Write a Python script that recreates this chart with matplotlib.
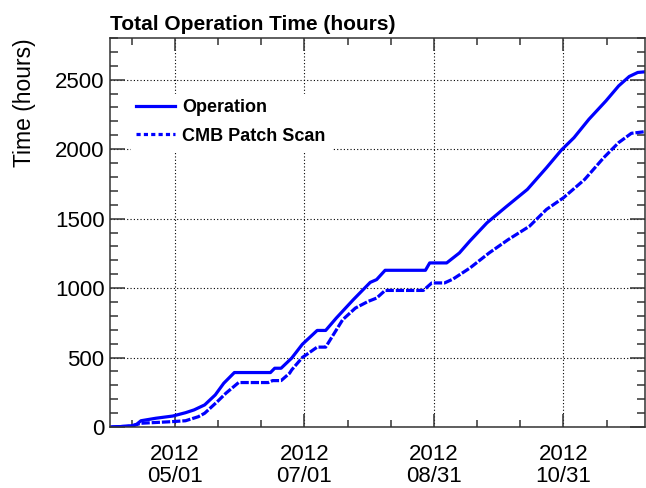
import matplotlib
matplotlib.use("Agg")
import matplotlib.pyplot as plt
import matplotlib.dates as mdates
from matplotlib.lines import Line2D
from datetime import datetime, timedelta

plt.rcParams["font.family"] = ["Liberation Sans", "DejaVu Sans"]

# cumulative hours
op_dates = ["2012-04-01", "2012-04-08", "2012-04-11", "2012-04-13", "2012-04-15",
            "2012-04-22", "2012-04-30", "2012-05-06", "2012-05-10", "2012-05-15",
            "2012-05-20", "2012-05-24", "2012-05-29", "2012-06-15", "2012-06-17",
            "2012-06-20", "2012-06-25", "2012-06-30", "2012-07-07", "2012-07-11",
            "2012-07-16", "2012-07-24", "2012-08-01", "2012-08-04", "2012-08-08",
            "2012-08-27", "2012-08-29", "2012-09-06", "2012-09-12", "2012-09-17",
            "2012-09-25", "2012-10-04", "2012-10-14", "2012-10-23", "2012-10-30",
            "2012-11-05", "2012-11-12", "2012-11-20", "2012-11-26", "2012-12-01",
            "2012-12-05", "2012-12-08"]
op_hours = [0, 5, 10, 20, 45,
            63, 79, 103, 123, 159,
            231, 315, 392, 392, 423,
            423, 496, 595, 695, 695,
            784, 916, 1041, 1061, 1128,
            1128, 1181, 1181, 1253, 1340,
            1470, 1585, 1710, 1866, 1993,
            2083, 2215, 2347, 2455, 2523,
            2552, 2556]

cmb_dates = ["2012-04-01", "2012-04-11", "2012-04-15", "2012-04-29", "2012-05-06",
             "2012-05-12", "2012-05-15", "2012-05-21", "2012-05-25", "2012-05-31",
             "2012-06-14", "2012-06-16", "2012-06-20", "2012-06-24", "2012-06-25",
             "2012-06-30", "2012-07-07", "2012-07-11", "2012-07-19", "2012-07-25",
             "2012-07-31", "2012-08-04", "2012-08-08", "2012-08-26", "2012-08-30",
             "2012-09-05", "2012-09-09", "2012-09-17", "2012-09-26", "2012-10-05",
             "2012-10-15", "2012-10-23", "2012-10-31", "2012-11-10", "2012-11-19",
             "2012-11-26", "2012-12-02", "2012-12-08"]
cmb_hours = [0, 8, 27, 38, 45,
             74, 99, 183, 243, 320,
             320, 334, 334, 387, 411,
             500, 575, 575, 772, 856,
             904, 928, 983, 983, 1037,
             1037, 1065, 1145, 1253, 1349,
             1445, 1566, 1650, 1782, 1939,
             2047, 2114, 2125]

major_ticks = ["2012-05-01", "2012-07-01", "2012-08-31", "2012-10-31"]


def to_dt(lst):
    return [datetime.strptime(s, "%Y-%m-%d") for s in lst]


fig = plt.figure(figsize=(6.46, 4.88), dpi=100)
ax = fig.add_axes([110 / 646, 61 / 488, 535 / 646, 389 / 488])

blue = "#0000ff"
ax.plot(to_dt(op_dates), op_hours, color=blue, lw=2.3)
ax.plot(to_dt(cmb_dates), cmb_hours, color=blue, lw=2.3, dashes=(2.6, 0.6))

ax.set_xlim(datetime(2012, 3, 31, 10), datetime(2012, 12, 8, 10))
ax.set_ylim(0, 2800)

majors = to_dt(major_ticks)
step = timedelta(days=61 / 3)
minors = [majors[0] + k * step for k in range(-3, 14)]
ax.xaxis.set_major_locator(matplotlib.ticker.FixedLocator(mdates.date2num(majors)))
ax.xaxis.set_minor_locator(matplotlib.ticker.FixedLocator(mdates.date2num(minors)))
ax.xaxis.set_major_formatter(mdates.DateFormatter("%Y\n%m/%d"))
ax.yaxis.set_major_locator(matplotlib.ticker.MultipleLocator(500))
ax.yaxis.set_minor_locator(matplotlib.ticker.MultipleLocator(100))

ax.tick_params(axis="both", which="both", direction="in", top=True, right=True,
               color="#333333", width=1.1, labelsize=16)
ax.tick_params(axis="x", which="major", length=9.5, pad=12)
ax.tick_params(axis="x", which="minor", length=5)
ax.tick_params(axis="y", which="major", length=11, pad=4)
ax.tick_params(axis="y", which="minor", length=6)
for lab in ax.get_xticklabels():
    lab.set_linespacing(1.1)

for sp in ax.spines.values():
    sp.set_color("#333333")
    sp.set_linewidth(1.1)

ax.grid(True, which="major", color="black", linestyle=(0, (1, 2)), linewidth=0.8)
ax.set_axisbelow(True)

# legend handles: ROOT draws the dashed sample with wider gaps than the curve shows
handles = [Line2D([], [], color=blue, lw=2.3),
           Line2D([], [], color=blue, lw=2.3, dashes=(1.3, 1.0))]
leg = ax.legend(handles, ["Operation", "CMB Patch Scan"],
                loc="upper left", bbox_to_anchor=(21 / 535, (427 - 94) / 389),
                borderaxespad=0, frameon=True, fancybox=False,
                prop={"weight": "bold", "size": 13}, borderpad=0.3,
                handlelength=2.15, handletextpad=0.38, labelspacing=0.62)
leg.get_frame().set_facecolor("white")
leg.get_frame().set_edgecolor("white")
leg.get_frame().set_alpha(1)

fig.text(110 / 646, 1 - 30 / 488, "Total Operation Time (hours)",
         fontsize=15, fontweight="bold", ha="left", va="baseline")
fig.text(25 / 646, 1 - 38 / 488, "Time (hours)", fontsize=16.5,
         rotation=90, ha="center", va="top")

fig.savefig("out.png", dpi=100)
